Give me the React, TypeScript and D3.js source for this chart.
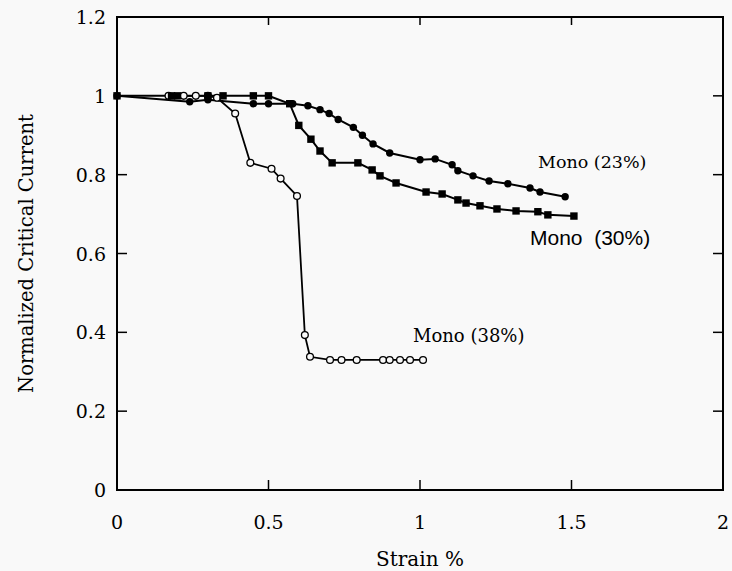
import { useMemo } from 'react';
import { scaleLinear, line } from 'd3';

// strain %, normalized Ic
const mono23X = [0, 0.24, 0.3, 0.45, 0.5, 0.58, 0.63, 0.67, 0.7, 0.73, 0.78, 0.81, 0.845, 0.9, 1.0, 1.05, 1.106, 1.125, 1.175, 1.228, 1.29, 1.363, 1.396, 1.479];
const mono23Y = [1, 0.985, 0.99, 0.98, 0.98, 0.98, 0.975, 0.965, 0.955, 0.94, 0.92, 0.9, 0.878, 0.855, 0.838, 0.84, 0.825, 0.81, 0.797, 0.784, 0.777, 0.766, 0.756, 0.744];

const mono30X = [0, 0.18, 0.2, 0.3, 0.35, 0.45, 0.5, 0.57, 0.6, 0.64, 0.67, 0.71, 0.795, 0.842, 0.868, 0.921, 1.02, 1.073, 1.125, 1.152, 1.198, 1.254, 1.317, 1.389, 1.422, 1.508];
const mono30Y = [1, 1, 1, 1, 1, 1, 1, 0.98, 0.925, 0.89, 0.86, 0.83, 0.83, 0.812, 0.797, 0.779, 0.756, 0.751, 0.736, 0.728, 0.721, 0.713, 0.708, 0.706, 0.698, 0.695];

const mono38X = [0.17, 0.22, 0.26, 0.3, 0.33, 0.39, 0.44, 0.51, 0.54, 0.594, 0.62, 0.637, 0.703, 0.741, 0.791, 0.878, 0.9, 0.934, 0.967, 1.01];
const mono38Y = [1, 1, 1, 1, 0.995, 0.955, 0.83, 0.815, 0.79, 0.746, 0.393, 0.338, 0.33, 0.33, 0.33, 0.33, 0.33, 0.33, 0.33, 0.33];

const xTicks = [0, 0.5, 1, 1.5, 2];
const yTicks = [0, 0.2, 0.4, 0.6, 0.8, 1, 1.2];

const serif = '"DejaVu Serif", serif';
const sans = '"Liberation Sans", Arial, sans-serif';
const bg = '#f9f9f9';

const App = () => {
  const x = scaleLinear().domain([0, 2]).range([117, 723]);
  const y = scaleLinear().domain([0, 1.2]).range([490, 17]);

  const mk = (xs: number[], ys: number[]) => xs.map((v, i) => [v, ys[i]] as [number, number]);
  const s23 = useMemo(() => mk(mono23X, mono23Y), []);
  const s30 = useMemo(() => mk(mono30X, mono30Y), []);
  const s38 = useMemo(() => mk(mono38X, mono38Y), []);

  const path = line<[number, number]>()
    .x((d) => x(d[0]))
    .y((d) => y(d[1]));

  const [x0, x1] = x.range();
  const [y0, y1] = y.range();

  return (
    <svg
      width={732}
      height={571}
      style={{ position: 'fixed', left: 0, top: 0, background: bg }}
    >
      {/* series lines */}
      <path d={path(s38) ?? ''} fill="none" stroke="#000" strokeWidth={1.8} />
      <path d={path(s30) ?? ''} fill="none" stroke="#000" strokeWidth={2} />
      <path d={path(s23) ?? ''} fill="none" stroke="#000" strokeWidth={2} />

      {s38.map((d, i) => (
        <circle key={'c38' + i} cx={x(d[0])} cy={y(d[1])} r={3.4} fill={bg} stroke="#000" strokeWidth={1.3} />
      ))}
      {s30.map((d, i) => (
        <rect key={'s30' + i} x={x(d[0]) - 3.7} y={y(d[1]) - 3.7} width={7.4} height={7.4} fill="#000" />
      ))}
      {s23.map((d, i) => (
        <circle key={'c23' + i} cx={x(d[0])} cy={y(d[1])} r={3.7} fill="#000" />
      ))}

      {/* frame */}
      <rect x={x0} y={y1} width={x1 - x0} height={y0 - y1} fill="none" stroke="#000" strokeWidth={2} />

      {xTicks.map((t) => (
        <g key={'xt' + t}>
          <line x1={x(t)} x2={x(t)} y1={y0} y2={y0 - 10} stroke="#000" strokeWidth={1.5} />
          <line x1={x(t)} x2={x(t)} y1={y1} y2={y1 + 8} stroke="#000" strokeWidth={1.5} />
          <text x={x(t)} y={529} textAnchor="middle" fontFamily={serif} fontSize={19}>
            {t}
          </text>
        </g>
      ))}
      {yTicks.map((t) => (
        <g key={'yt' + t}>
          <line x1={x0} x2={x0 + 10} y1={y(t)} y2={y(t)} stroke="#000" strokeWidth={1.5} />
          <line x1={x1} x2={x1 - 10} y1={y(t)} y2={y(t)} stroke="#000" strokeWidth={1.5} />
          <text x={106} y={y(t) + 7} textAnchor="end" fontFamily={serif} fontSize={19}>
            {t}
          </text>
        </g>
      ))}

      <text x={(x0 + x1) / 2} y={566} textAnchor="middle" fontFamily={serif} fontSize={20}>
        Strain %
      </text>
      <text
        transform={`translate(33,${(y0 + y1) / 2}) rotate(-90)`}
        textAnchor="middle"
        fontFamily={serif}
        fontSize={19.5}
      >
        Normalized Critical Current
      </text>

      {/* series labels */}
      <text x={538} y={168} fontFamily={serif} fontSize={17.5}>
        Mono (23%)
      </text>
      <text x={530} y={245} fontFamily={sans} fontSize={21} xmlSpace="preserve">
        Mono  (30%)
      </text>
      <text x={413} y={342} fontFamily={serif} fontSize={18}>
        Mono (38%)
      </text>
    </svg>
  );
};

export default App;
